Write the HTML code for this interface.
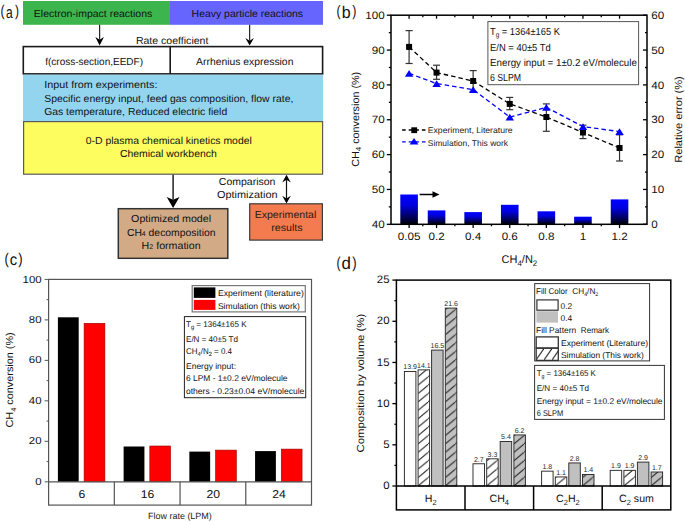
<!DOCTYPE html>
<html><head><meta charset="utf-8"><style>
html,body{margin:0;padding:0;background:#fff;}
svg{display:block;}
text{font-family:"Liberation Sans", sans-serif;text-rendering:geometricPrecision;}
</style></head><body>
<svg width="685" height="522" viewBox="0 0 685 522">
<text transform="translate(0.60,16.20) scale(0.1208,0.1545)" font-size="100" fill="#111">(</text>
<text transform="translate(5.89,17.53) scale(0.1206,0.1661)" font-size="100" fill="#111">a</text>
<text transform="translate(15.03,16.20) scale(0.1208,0.1545)" font-size="100" fill="#111">)</text>
<rect x="23" y="1" width="147" height="23.8" fill="#3db54d" stroke="none" stroke-width="1" />
<rect x="170" y="1" width="153" height="23.8" fill="#6666ff" stroke="none" stroke-width="1" />
<text x="33.8" y="16.5" font-size="10.2" text-anchor="start" fill="#111" textLength="118.5" lengthAdjust="spacingAndGlyphs" >Electron-impact reactions</text>
<text x="191.6" y="16.5" font-size="10.2" text-anchor="start" fill="#111" textLength="111.5" lengthAdjust="spacingAndGlyphs" >Heavy particle reactions</text>
<line x1="99.65" y1="24.8" x2="99.65" y2="39.800000000000004" stroke="#111" stroke-width="1.1" />
<path d="M95.35000000000001,37.1 L99.65,45.6 L103.95,37.1 L99.65,39.800000000000004 Z" fill="#000"/>
<line x1="249.65" y1="24.8" x2="249.65" y2="40.7" stroke="#111" stroke-width="1.1" />
<path d="M245.35,38.0 L249.65,45.6 L253.95000000000002,38.0 L249.65,40.7 Z" fill="#000"/>
<text x="135.9" y="43.8" font-size="10.2" text-anchor="start" fill="#111" textLength="72.5" lengthAdjust="spacingAndGlyphs" >Rate coefficient</text>
<rect x="23.3" y="46.6" width="299.3" height="27.300000000000004" fill="#fff" stroke="#1a1a1a" stroke-width="1.6" />
<line x1="170.2" y1="46.6" x2="170.2" y2="73.9" stroke="#1a1a1a" stroke-width="1.6" />
<text x="45.2" y="65.2" font-size="10.2" text-anchor="start" fill="#111" textLength="97.8" lengthAdjust="spacingAndGlyphs" >f(cross-section,EEDF)</text>
<text x="196.1" y="64.8" font-size="10.2" text-anchor="start" fill="#111" textLength="97.3" lengthAdjust="spacingAndGlyphs" >Arrhenius expression</text>
<rect x="23" y="74.7" width="300" height="46.3" fill="#93d5ef" stroke="none" stroke-width="1" />
<text x="44.2" y="87.9" font-size="10.2" text-anchor="start" fill="#111" textLength="113.3" lengthAdjust="spacingAndGlyphs" >Input from experiments:</text>
<text x="44.2" y="101.6" font-size="10.2" text-anchor="start" fill="#111" textLength="249.2" lengthAdjust="spacingAndGlyphs" >Specific energy input, feed gas composition, flow rate,</text>
<text x="44.2" y="115.3" font-size="10.2" text-anchor="start" fill="#111" textLength="183.0" lengthAdjust="spacingAndGlyphs" >Gas temperature, Reduced electric field</text>
<rect x="23.6" y="121.6" width="299.0" height="52.599999999999994" fill="#fdfd5f" stroke="#5a5a5a" stroke-width="1.2" />
<text x="85.8" y="144.2" font-size="10.2" text-anchor="start" fill="#111" textLength="166.0" lengthAdjust="spacingAndGlyphs" >0-D plasma chemical kinetics model</text>
<text x="119.9" y="157.1" font-size="10.2" text-anchor="start" fill="#111" textLength="96.9" lengthAdjust="spacingAndGlyphs" >Chemical workbench</text>
<line x1="173.1" y1="174.8" x2="173.1" y2="199.70000000000002" stroke="#111" stroke-width="1.4" />
<path d="M166.7,196.9 L173.1,207.9 L179.5,196.9 L173.1,199.70000000000002 Z" fill="#000"/>
<line x1="286.5" y1="177" x2="286.5" y2="201" stroke="#111" stroke-width="1.2" />
<path d="M282.2,182.5 L286.5,174.8 L290.8,182.5 L286.5,179.8 Z" fill="#000"/>
<path d="M282.2,195.8 L286.5,203.5 L290.8,195.8 L286.5,198.5 Z" fill="#000"/>
<text x="218.8" y="184.5" font-size="10.2" text-anchor="start" fill="#111" textLength="56.6" lengthAdjust="spacingAndGlyphs" >Comparison</text>
<text x="217" y="197.7" font-size="10.2" text-anchor="start" fill="#111" textLength="60.5" lengthAdjust="spacingAndGlyphs" >Optimization</text>
<rect x="118.3" y="208.7" width="109.50000000000001" height="49.60000000000002" fill="#d2ab86" stroke="#333" stroke-width="1.5" />
<text x="131.1" y="222.2" font-size="10.2" text-anchor="start" fill="#111" textLength="80.0" lengthAdjust="spacingAndGlyphs" >Optimized model</text>
<text x="126.9" y="235.7" font-size="10.2" text-anchor="start" fill="#111" textLength="88.6" lengthAdjust="spacingAndGlyphs" >CH<tspan font-size="6.8">4</tspan> decomposition</text>
<text x="141.6" y="248.8" font-size="10.2" text-anchor="start" fill="#111" textLength="59.0" lengthAdjust="spacingAndGlyphs" >H<tspan font-size="6.8">2</tspan> formation</text>
<rect x="249.7" y="203.8" width="72.69999999999999" height="36.29999999999998" fill="#f47b4f" stroke="#3a3a3a" stroke-width="1.2" />
<text x="254.7" y="218.2" font-size="10.2" text-anchor="start" fill="#2a1a10" textLength="61.6" lengthAdjust="spacingAndGlyphs" >Experimental</text>
<text x="271.3" y="231.3" font-size="10.2" text-anchor="start" fill="#2a1a10" textLength="31.3" lengthAdjust="spacingAndGlyphs" >results</text>
<text transform="translate(336.55,16.42) scale(0.1208,0.1534)" font-size="100" fill="#111">(</text>
<text transform="translate(341.66,17.53) scale(0.1604,0.1687)" font-size="100" fill="#111">b</text>
<text transform="translate(352.33,16.42) scale(0.1245,0.1534)" font-size="100" fill="#111">)</text>
<defs><linearGradient id="bg" x1="0" y1="0" x2="0" y2="1"><stop offset="0" stop-color="#0000ff"/><stop offset="0.35" stop-color="#0000e0"/><stop offset="1" stop-color="#000008"/></linearGradient></defs>
<rect x="400.3" y="194.5" width="17.600000000000023" height="29.80000000000001" fill="url(#bg)" stroke="none" stroke-width="1" />
<rect x="427.75" y="210.4" width="17.600000000000023" height="13.900000000000006" fill="url(#bg)" stroke="none" stroke-width="1" />
<rect x="464.35" y="212.1" width="17.600000000000023" height="12.200000000000017" fill="url(#bg)" stroke="none" stroke-width="1" />
<rect x="500.95" y="204.8" width="17.599999999999966" height="19.5" fill="url(#bg)" stroke="none" stroke-width="1" />
<rect x="537.5500000000001" y="211.3" width="17.59999999999991" height="13.0" fill="url(#bg)" stroke="none" stroke-width="1" />
<rect x="574.1500000000001" y="216.7" width="17.59999999999991" height="7.600000000000023" fill="url(#bg)" stroke="none" stroke-width="1" />
<rect x="610.75" y="199.4" width="17.59999999999991" height="24.900000000000006" fill="url(#bg)" stroke="none" stroke-width="1" />
<line x1="419.6" y1="194.5" x2="435" y2="194.5" stroke="#000" stroke-width="1.5" />
<path d="M432.5,191.3 L439.5,194.5 L432.5,197.7 Z" fill="#000"/>
<rect x="391" y="15.2" width="256" height="209.10000000000002" fill="none" stroke="#000" stroke-width="1.5"/>
<line x1="386.8" y1="224.3" x2="391" y2="224.3" stroke="#000" stroke-width="1.3" />
<text x="384.8" y="228.0" font-size="10.6" text-anchor="end" fill="#111" textLength="12.97" lengthAdjust="spacingAndGlyphs" >40</text>
<line x1="388.8" y1="206.875" x2="391" y2="206.875" stroke="#000" stroke-width="1.3" />
<line x1="386.8" y1="189.45000000000002" x2="391" y2="189.45000000000002" stroke="#000" stroke-width="1.3" />
<text x="384.8" y="193.15" font-size="10.6" text-anchor="end" fill="#111" textLength="12.97" lengthAdjust="spacingAndGlyphs" >50</text>
<line x1="388.8" y1="172.025" x2="391" y2="172.025" stroke="#000" stroke-width="1.3" />
<line x1="386.8" y1="154.60000000000002" x2="391" y2="154.60000000000002" stroke="#000" stroke-width="1.3" />
<text x="384.8" y="158.3" font-size="10.6" text-anchor="end" fill="#111" textLength="12.97" lengthAdjust="spacingAndGlyphs" >60</text>
<line x1="388.8" y1="137.175" x2="391" y2="137.175" stroke="#000" stroke-width="1.3" />
<line x1="386.8" y1="119.75" x2="391" y2="119.75" stroke="#000" stroke-width="1.3" />
<text x="384.8" y="123.45" font-size="10.6" text-anchor="end" fill="#111" textLength="12.97" lengthAdjust="spacingAndGlyphs" >70</text>
<line x1="388.8" y1="102.325" x2="391" y2="102.325" stroke="#000" stroke-width="1.3" />
<line x1="386.8" y1="84.9" x2="391" y2="84.9" stroke="#000" stroke-width="1.3" />
<text x="384.8" y="88.60000000000001" font-size="10.6" text-anchor="end" fill="#111" textLength="12.97" lengthAdjust="spacingAndGlyphs" >80</text>
<line x1="388.8" y1="67.475" x2="391" y2="67.475" stroke="#000" stroke-width="1.3" />
<line x1="386.8" y1="50.04999999999998" x2="391" y2="50.04999999999998" stroke="#000" stroke-width="1.3" />
<text x="384.8" y="53.749999999999986" font-size="10.6" text-anchor="end" fill="#111" textLength="12.97" lengthAdjust="spacingAndGlyphs" >90</text>
<line x1="388.8" y1="32.62499999999997" x2="391" y2="32.62499999999997" stroke="#000" stroke-width="1.3" />
<line x1="386.8" y1="15.199999999999989" x2="391" y2="15.199999999999989" stroke="#000" stroke-width="1.3" />
<text x="384.8" y="18.899999999999988" font-size="10.6" text-anchor="end" fill="#111" textLength="19.45" lengthAdjust="spacingAndGlyphs" >100</text>
<line x1="643" y1="224.3" x2="647" y2="224.3" stroke="#000" stroke-width="1.3" />
<text x="651.2" y="228.0" font-size="10.6" text-anchor="start" fill="#111" textLength="6.48" lengthAdjust="spacingAndGlyphs" >0</text>
<line x1="645" y1="206.875" x2="647" y2="206.875" stroke="#000" stroke-width="1.3" />
<line x1="643" y1="189.45000000000002" x2="647" y2="189.45000000000002" stroke="#000" stroke-width="1.3" />
<text x="651.2" y="193.15" font-size="10.6" text-anchor="start" fill="#111" textLength="12.97" lengthAdjust="spacingAndGlyphs" >10</text>
<line x1="645" y1="172.025" x2="647" y2="172.025" stroke="#000" stroke-width="1.3" />
<line x1="643" y1="154.60000000000002" x2="647" y2="154.60000000000002" stroke="#000" stroke-width="1.3" />
<text x="651.2" y="158.3" font-size="10.6" text-anchor="start" fill="#111" textLength="12.97" lengthAdjust="spacingAndGlyphs" >20</text>
<line x1="645" y1="137.175" x2="647" y2="137.175" stroke="#000" stroke-width="1.3" />
<line x1="643" y1="119.75" x2="647" y2="119.75" stroke="#000" stroke-width="1.3" />
<text x="651.2" y="123.45" font-size="10.6" text-anchor="start" fill="#111" textLength="12.97" lengthAdjust="spacingAndGlyphs" >30</text>
<line x1="645" y1="102.325" x2="647" y2="102.325" stroke="#000" stroke-width="1.3" />
<line x1="643" y1="84.9" x2="647" y2="84.9" stroke="#000" stroke-width="1.3" />
<text x="651.2" y="88.60000000000001" font-size="10.6" text-anchor="start" fill="#111" textLength="12.97" lengthAdjust="spacingAndGlyphs" >40</text>
<line x1="645" y1="67.475" x2="647" y2="67.475" stroke="#000" stroke-width="1.3" />
<line x1="643" y1="50.04999999999998" x2="647" y2="50.04999999999998" stroke="#000" stroke-width="1.3" />
<text x="651.2" y="53.749999999999986" font-size="10.6" text-anchor="start" fill="#111" textLength="12.97" lengthAdjust="spacingAndGlyphs" >50</text>
<line x1="645" y1="32.62499999999997" x2="647" y2="32.62499999999997" stroke="#000" stroke-width="1.3" />
<line x1="643" y1="15.199999999999989" x2="647" y2="15.199999999999989" stroke="#000" stroke-width="1.3" />
<text x="651.2" y="18.899999999999988" font-size="10.6" text-anchor="start" fill="#111" textLength="12.97" lengthAdjust="spacingAndGlyphs" >60</text>
<line x1="409.1" y1="224.3" x2="409.1" y2="228.10000000000002" stroke="#000" stroke-width="1.3" />
<line x1="409.1" y1="15.2" x2="409.1" y2="18.7" stroke="#000" stroke-width="1.3" />
<text x="409.1" y="240.2" font-size="10.6" text-anchor="middle" fill="#111" textLength="22.69" lengthAdjust="spacingAndGlyphs" >0.05</text>
<line x1="422.82500000000005" y1="224.3" x2="422.82500000000005" y2="226.3" stroke="#000" stroke-width="1.3" />
<line x1="422.82500000000005" y1="15.2" x2="422.82500000000005" y2="17.2" stroke="#000" stroke-width="1.3" />
<line x1="436.55" y1="224.3" x2="436.55" y2="228.10000000000002" stroke="#000" stroke-width="1.3" />
<line x1="436.55" y1="15.2" x2="436.55" y2="18.7" stroke="#000" stroke-width="1.3" />
<text x="436.55" y="240.2" font-size="10.6" text-anchor="middle" fill="#111" textLength="16.21" lengthAdjust="spacingAndGlyphs" >0.2</text>
<line x1="454.85" y1="224.3" x2="454.85" y2="226.3" stroke="#000" stroke-width="1.3" />
<line x1="454.85" y1="15.2" x2="454.85" y2="17.2" stroke="#000" stroke-width="1.3" />
<line x1="473.15000000000003" y1="224.3" x2="473.15000000000003" y2="228.10000000000002" stroke="#000" stroke-width="1.3" />
<line x1="473.15000000000003" y1="15.2" x2="473.15000000000003" y2="18.7" stroke="#000" stroke-width="1.3" />
<text x="473.15000000000003" y="240.2" font-size="10.6" text-anchor="middle" fill="#111" textLength="16.21" lengthAdjust="spacingAndGlyphs" >0.4</text>
<line x1="491.45000000000005" y1="224.3" x2="491.45000000000005" y2="226.3" stroke="#000" stroke-width="1.3" />
<line x1="491.45000000000005" y1="15.2" x2="491.45000000000005" y2="17.2" stroke="#000" stroke-width="1.3" />
<line x1="509.75" y1="224.3" x2="509.75" y2="228.10000000000002" stroke="#000" stroke-width="1.3" />
<line x1="509.75" y1="15.2" x2="509.75" y2="18.7" stroke="#000" stroke-width="1.3" />
<text x="509.75" y="240.2" font-size="10.6" text-anchor="middle" fill="#111" textLength="16.21" lengthAdjust="spacingAndGlyphs" >0.6</text>
<line x1="528.05" y1="224.3" x2="528.05" y2="226.3" stroke="#000" stroke-width="1.3" />
<line x1="528.05" y1="15.2" x2="528.05" y2="17.2" stroke="#000" stroke-width="1.3" />
<line x1="546.35" y1="224.3" x2="546.35" y2="228.10000000000002" stroke="#000" stroke-width="1.3" />
<line x1="546.35" y1="15.2" x2="546.35" y2="18.7" stroke="#000" stroke-width="1.3" />
<text x="546.35" y="240.2" font-size="10.6" text-anchor="middle" fill="#111" textLength="16.21" lengthAdjust="spacingAndGlyphs" >0.8</text>
<line x1="564.6500000000001" y1="224.3" x2="564.6500000000001" y2="226.3" stroke="#000" stroke-width="1.3" />
<line x1="564.6500000000001" y1="15.2" x2="564.6500000000001" y2="17.2" stroke="#000" stroke-width="1.3" />
<line x1="582.95" y1="224.3" x2="582.95" y2="228.10000000000002" stroke="#000" stroke-width="1.3" />
<line x1="582.95" y1="15.2" x2="582.95" y2="18.7" stroke="#000" stroke-width="1.3" />
<text x="582.95" y="240.2" font-size="10.6" text-anchor="middle" fill="#111" textLength="6.48" lengthAdjust="spacingAndGlyphs" >1</text>
<line x1="601.25" y1="224.3" x2="601.25" y2="226.3" stroke="#000" stroke-width="1.3" />
<line x1="601.25" y1="15.2" x2="601.25" y2="17.2" stroke="#000" stroke-width="1.3" />
<line x1="619.55" y1="224.3" x2="619.55" y2="228.10000000000002" stroke="#000" stroke-width="1.3" />
<line x1="619.55" y1="15.2" x2="619.55" y2="18.7" stroke="#000" stroke-width="1.3" />
<text x="619.55" y="240.2" font-size="10.6" text-anchor="middle" fill="#111" textLength="16.21" lengthAdjust="spacingAndGlyphs" >1.2</text>
<text x="501.6" y="262.9" font-size="11.2" text-anchor="start" fill="#111" textLength="35.6" lengthAdjust="spacingAndGlyphs" >CH<tspan font-size="8" dy="3">4</tspan><tspan dy="-3">/N</tspan><tspan font-size="8" dy="3">2</tspan></text>
<text transform="translate(358.8,166.8) rotate(-90)" font-size="10.3" fill="#111" textLength="95" lengthAdjust="spacingAndGlyphs">CH<tspan font-size="7.5" dy="2.5">4</tspan><tspan dy="-2.5"> conversion (%)</tspan></text>
<text transform="translate(682.3,162.7) rotate(-90)" font-size="10.3" fill="#111" textLength="86.5" lengthAdjust="spacingAndGlyphs">Relative error (%)</text>
<polyline points="409.1,46.9 436.6,72.6 473.2,81.0 509.8,103.9 546.4,117.0 583.0,132.5 619.5,148.0" fill="none" stroke="#000" stroke-width="1.3" stroke-dasharray="4.5,3"/>
<line x1="409.1" y1="30.6" x2="409.1" y2="63.5" stroke="#333" stroke-width="1.2" />
<line x1="405.6" y1="30.6" x2="412.6" y2="30.6" stroke="#333" stroke-width="1.2" />
<line x1="405.6" y1="63.5" x2="412.6" y2="63.5" stroke="#333" stroke-width="1.2" />
<line x1="436.55" y1="65.2" x2="436.55" y2="79.3" stroke="#333" stroke-width="1.2" />
<line x1="433.05" y1="65.2" x2="440.05" y2="65.2" stroke="#333" stroke-width="1.2" />
<line x1="433.05" y1="79.3" x2="440.05" y2="79.3" stroke="#333" stroke-width="1.2" />
<line x1="473.15000000000003" y1="70.6" x2="473.15000000000003" y2="91.4" stroke="#333" stroke-width="1.2" />
<line x1="469.65000000000003" y1="70.6" x2="476.65000000000003" y2="70.6" stroke="#333" stroke-width="1.2" />
<line x1="469.65000000000003" y1="91.4" x2="476.65000000000003" y2="91.4" stroke="#333" stroke-width="1.2" />
<line x1="509.75" y1="97.4" x2="509.75" y2="109.7" stroke="#333" stroke-width="1.2" />
<line x1="506.25" y1="97.4" x2="513.25" y2="97.4" stroke="#333" stroke-width="1.2" />
<line x1="506.25" y1="109.7" x2="513.25" y2="109.7" stroke="#333" stroke-width="1.2" />
<line x1="546.35" y1="103.9" x2="546.35" y2="131.3" stroke="#333" stroke-width="1.2" />
<line x1="542.85" y1="103.9" x2="549.85" y2="103.9" stroke="#333" stroke-width="1.2" />
<line x1="542.85" y1="131.3" x2="549.85" y2="131.3" stroke="#333" stroke-width="1.2" />
<line x1="582.95" y1="125.2" x2="582.95" y2="138.6" stroke="#333" stroke-width="1.2" />
<line x1="579.45" y1="125.2" x2="586.45" y2="125.2" stroke="#333" stroke-width="1.2" />
<line x1="579.45" y1="138.6" x2="586.45" y2="138.6" stroke="#333" stroke-width="1.2" />
<line x1="619.55" y1="134.8" x2="619.55" y2="161.0" stroke="#333" stroke-width="1.2" />
<line x1="616.05" y1="134.8" x2="623.05" y2="134.8" stroke="#333" stroke-width="1.2" />
<line x1="616.05" y1="161.0" x2="623.05" y2="161.0" stroke="#333" stroke-width="1.2" />
<rect x="406.1" y="43.9" width="6.0" height="6.0" fill="#000" stroke="none" stroke-width="1" />
<rect x="433.55" y="69.6" width="6.0" height="6.0" fill="#000" stroke="none" stroke-width="1" />
<rect x="470.15000000000003" y="78.0" width="6.0" height="6.0" fill="#000" stroke="none" stroke-width="1" />
<rect x="506.75" y="100.9" width="6.0" height="6.0" fill="#000" stroke="none" stroke-width="1" />
<rect x="543.35" y="114.0" width="6.0" height="6.0" fill="#000" stroke="none" stroke-width="1" />
<rect x="579.95" y="129.5" width="6.0" height="6.0" fill="#000" stroke="none" stroke-width="1" />
<rect x="616.55" y="145.0" width="6.0" height="6.0" fill="#000" stroke="none" stroke-width="1" />
<polyline points="409.1,73.4 436.6,83.6 473.2,89.6 509.8,117.1 546.4,107.4 583.0,126.6 619.5,131.6" fill="none" stroke="#0000ff" stroke-width="1.3" stroke-dasharray="4.5,3"/>
<path d="M404.9,76.7 L409.1,70.0 L413.3,76.7 Z" fill="#0000ff"/>
<path d="M432.4,86.89999999999999 L436.6,80.19999999999999 L440.8,86.89999999999999 Z" fill="#0000ff"/>
<path d="M469.0,92.89999999999999 L473.2,86.19999999999999 L477.4,92.89999999999999 Z" fill="#0000ff"/>
<path d="M505.6,120.39999999999999 L509.8,113.69999999999999 L514.0,120.39999999999999 Z" fill="#0000ff"/>
<path d="M542.1,110.7 L546.4,104.0 L550.6,110.7 Z" fill="#0000ff"/>
<path d="M578.8,129.9 L583.0,123.19999999999999 L587.2,129.9 Z" fill="#0000ff"/>
<path d="M615.3,134.9 L619.5,128.2 L623.8,134.9 Z" fill="#0000ff"/>
<rect x="487.9" y="21.6" width="150.70000000000005" height="63.1" fill="#fff" stroke="#555" stroke-width="1" />
<text x="490" y="34.9" font-size="10.2" text-anchor="start" fill="#111" textLength="69.9" lengthAdjust="spacingAndGlyphs" >T<tspan font-size="7" dy="2.5">g</tspan><tspan dy="-2.5"> = 1364±165 K</tspan></text>
<text x="490" y="51" font-size="10.2" text-anchor="start" fill="#111" textLength="60.7" lengthAdjust="spacingAndGlyphs" >E/N = 40±5 Td</text>
<text x="490" y="65.9" font-size="10.2" text-anchor="start" fill="#111" textLength="146.9" lengthAdjust="spacingAndGlyphs" >Energy input = 1±0.2 eV/molecule</text>
<text x="490" y="80.8" font-size="10.2" text-anchor="start" fill="#111" textLength="31" lengthAdjust="spacingAndGlyphs" >6 SLPM</text>
<line x1="402.1" y1="130" x2="426" y2="130" stroke="#000" stroke-width="1.3" stroke-dasharray="3.6,3"/>
<rect x="411.3" y="127.3" width="5.800000000000011" height="5.799999999999997" fill="#000" stroke="none" stroke-width="1" />
<text x="427.8" y="133.3" font-size="8.3" text-anchor="start" fill="#222" textLength="84.8" lengthAdjust="spacingAndGlyphs" >Experiment, Literature</text>
<line x1="402.1" y1="141.8" x2="426" y2="141.8" stroke="#0000ff" stroke-width="1.3" stroke-dasharray="3.6,3"/>
<path d="M409.6,144.6 L414,137.9 L418.4,144.6 Z" fill="#0000ff"/>
<text x="427.8" y="145.7" font-size="8.3" text-anchor="start" fill="#222" textLength="80.2" lengthAdjust="spacingAndGlyphs" >Simulation, This work</text>
<text transform="translate(4.60,264.20) scale(0.1283,0.1545)" font-size="100" fill="#111">(</text>
<text transform="translate(9.78,265.34) scale(0.1481,0.1624)" font-size="100" fill="#111">c</text>
<text transform="translate(18.32,264.20) scale(0.1321,0.1545)" font-size="100" fill="#111">)</text>
<rect x="57.900000000000006" y="317.3" width="20.799999999999997" height="164.5" fill="#000" stroke="none" stroke-width="1" />
<rect x="84.1" y="323.3" width="20.80000000000001" height="158.5" fill="#ff0000" stroke="#990000" stroke-width="0.6" />
<text x="81.86250000000001" y="497.9" font-size="11.4" text-anchor="middle" fill="#111" textLength="6.78" lengthAdjust="spacingAndGlyphs" >6</text>
<rect x="123.62499999999999" y="446.5" width="20.799999999999997" height="35.30000000000001" fill="#000" stroke="none" stroke-width="1" />
<rect x="149.825" y="446.0" width="20.80000000000001" height="35.80000000000001" fill="#ff0000" stroke="#990000" stroke-width="0.6" />
<text x="147.5875" y="497.9" font-size="11.4" text-anchor="middle" fill="#111" textLength="13.57" lengthAdjust="spacingAndGlyphs" >16</text>
<line x1="114.32499999999999" y1="481.8" x2="114.32499999999999" y2="505.1" stroke="#555" stroke-width="1.2" />
<rect x="189.35" y="451.6" width="20.799999999999983" height="30.19999999999999" fill="#000" stroke="none" stroke-width="1" />
<rect x="215.54999999999998" y="450.1" width="20.799999999999983" height="31.69999999999999" fill="#ff0000" stroke="#990000" stroke-width="0.6" />
<text x="213.31249999999997" y="497.9" font-size="11.4" text-anchor="middle" fill="#111" textLength="13.57" lengthAdjust="spacingAndGlyphs" >20</text>
<line x1="180.04999999999998" y1="481.8" x2="180.04999999999998" y2="505.1" stroke="#555" stroke-width="1.2" />
<rect x="255.075" y="451.1" width="20.80000000000001" height="30.69999999999999" fill="#000" stroke="none" stroke-width="1" />
<rect x="281.275" y="449.1" width="20.80000000000001" height="32.69999999999999" fill="#ff0000" stroke="#990000" stroke-width="0.6" />
<text x="279.03749999999997" y="497.9" font-size="11.4" text-anchor="middle" fill="#111" textLength="13.57" lengthAdjust="spacingAndGlyphs" >24</text>
<line x1="245.77499999999998" y1="481.8" x2="245.77499999999998" y2="505.1" stroke="#555" stroke-width="1.2" />
<rect x="48.6" y="279.4" width="262.9" height="225.70000000000005" fill="none" stroke="#555" stroke-width="1.2" />
<line x1="48.6" y1="481.8" x2="311.5" y2="481.8" stroke="#555" stroke-width="1.2" />
<line x1="44.6" y1="481.8" x2="48.6" y2="481.8" stroke="#555" stroke-width="1" />
<text x="41.6" y="484.90000000000003" font-size="10.2" text-anchor="end" fill="#111" textLength="6.35" lengthAdjust="spacingAndGlyphs" >0</text>
<line x1="46.6" y1="461.56" x2="48.6" y2="461.56" stroke="#555" stroke-width="1" />
<line x1="44.6" y1="441.32" x2="48.6" y2="441.32" stroke="#555" stroke-width="1" />
<text x="41.6" y="444.42" font-size="10.2" text-anchor="end" fill="#111" textLength="12.71" lengthAdjust="spacingAndGlyphs" >20</text>
<line x1="46.6" y1="421.08" x2="48.6" y2="421.08" stroke="#555" stroke-width="1" />
<line x1="44.6" y1="400.84" x2="48.6" y2="400.84" stroke="#555" stroke-width="1" />
<text x="41.6" y="403.94" font-size="10.2" text-anchor="end" fill="#111" textLength="12.71" lengthAdjust="spacingAndGlyphs" >40</text>
<line x1="46.6" y1="380.6" x2="48.6" y2="380.6" stroke="#555" stroke-width="1" />
<line x1="44.6" y1="360.36" x2="48.6" y2="360.36" stroke="#555" stroke-width="1" />
<text x="41.6" y="363.46000000000004" font-size="10.2" text-anchor="end" fill="#111" textLength="12.71" lengthAdjust="spacingAndGlyphs" >60</text>
<line x1="46.6" y1="340.12" x2="48.6" y2="340.12" stroke="#555" stroke-width="1" />
<line x1="44.6" y1="319.88" x2="48.6" y2="319.88" stroke="#555" stroke-width="1" />
<text x="41.6" y="322.98" font-size="10.2" text-anchor="end" fill="#111" textLength="12.71" lengthAdjust="spacingAndGlyphs" >80</text>
<line x1="46.6" y1="299.64" x2="48.6" y2="299.64" stroke="#555" stroke-width="1" />
<line x1="44.6" y1="279.4" x2="48.6" y2="279.4" stroke="#555" stroke-width="1" />
<text x="41.6" y="282.5" font-size="10.2" text-anchor="end" fill="#111" textLength="19.06" lengthAdjust="spacingAndGlyphs" >100</text>
<text x="148" y="519" font-size="9" text-anchor="start" fill="#222" textLength="63.8" lengthAdjust="spacingAndGlyphs" >Flow rate (LPM)</text>
<text transform="translate(13.2,427.5) rotate(-90)" font-size="10.2" fill="#111" textLength="95.2" lengthAdjust="spacingAndGlyphs">CH<tspan font-size="7" dy="2.3">4</tspan><tspan dy="-2.3"> conversion (%)</tspan></text>
<rect x="192.2" y="285.6" width="113.10000000000002" height="26.299999999999955" fill="#fff" stroke="#777" stroke-width="1.2" />
<rect x="193.8" y="287.4" width="21.599999999999994" height="10.5" fill="#000" stroke="none" stroke-width="1" />
<rect x="193.8" y="299.9" width="21.599999999999994" height="10.0" fill="#ff0000" stroke="none" stroke-width="1" />
<text x="217.9" y="296.2" font-size="8.4" text-anchor="start" fill="#111" textLength="85.9" lengthAdjust="spacingAndGlyphs" >Experiment (literature)</text>
<text x="217.9" y="308.5" font-size="8.4" text-anchor="start" fill="#111" textLength="82" lengthAdjust="spacingAndGlyphs" >Simulation (this work)</text>
<rect x="184.4" y="316.6" width="121.29999999999998" height="81.09999999999997" fill="#fff" stroke="#222" stroke-width="1" />
<text x="186" y="327.1" font-size="8.4" text-anchor="start" fill="#111" textLength="60.5" lengthAdjust="spacingAndGlyphs" >T<tspan font-size="6" dy="2">g</tspan><tspan dy="-2"> = 1364±165 K</tspan></text>
<text x="186" y="341.9" font-size="8.4" text-anchor="start" fill="#111" textLength="52" lengthAdjust="spacingAndGlyphs" >E/N = 40±5 Td</text>
<text x="186" y="354" font-size="8.4" text-anchor="start" fill="#111" textLength="46" lengthAdjust="spacingAndGlyphs" >CH<tspan font-size="6" dy="2">4</tspan><tspan dy="-2">/N</tspan><tspan font-size="6" dy="2">2</tspan><tspan dy="-2"> = 0.4</tspan></text>
<text x="186" y="368.5" font-size="8.4" text-anchor="start" fill="#111" textLength="50" lengthAdjust="spacingAndGlyphs" >Energy input:</text>
<text x="186" y="381.2" font-size="8.4" text-anchor="start" fill="#111" textLength="101.5" lengthAdjust="spacingAndGlyphs" >6 LPM - 1±0.2 eV/molecule</text>
<text x="186" y="393.9" font-size="8.4" text-anchor="start" fill="#111" textLength="118.3" lengthAdjust="spacingAndGlyphs" >others - 0.23±0.04 eV/molecule</text>
<text transform="translate(336.55,268.01) scale(0.1208,0.1588)" font-size="100" fill="#111">(</text>
<text transform="translate(341.59,269.03) scale(0.1689,0.1728)" font-size="100" fill="#111">d</text>
<text transform="translate(352.32,268.01) scale(0.1321,0.1588)" font-size="100" fill="#111">)</text>
<rect x="404.4" y="371.5196" width="11.5" height="114.48039999999997" fill="#fff" stroke="#2a2a2a" stroke-width="0.95" />
<text x="410.15" y="369.31960000000004" font-size="7" text-anchor="middle" fill="#2a2a2a" >13.9</text>
<rect x="418.09999999999997" y="369.8724" width="11.5" height="116.12759999999997" fill="#fff" stroke="none" stroke-width="0.95" />
<defs><pattern id="h1" patternUnits="userSpaceOnUse" x="418.10" y="486.0" width="10.0" height="8.4"><path d="M-1,9.240 L11.0,-0.840" stroke="#1a1a1a" stroke-width="1"/></pattern></defs>
<rect x="418.10" y="369.87" width="11.5" height="116.13" fill="url(#h1)" stroke="#2a2a2a" stroke-width="0.95"/>
<text x="423.84999999999997" y="367.67240000000004" font-size="7" text-anchor="middle" fill="#2a2a2a" >14.1</text>
<rect x="431.59999999999997" y="350.106" width="11.5" height="135.894" fill="#c0c0c0" stroke="#2a2a2a" stroke-width="0.95" />
<text x="437.34999999999997" y="347.906" font-size="7" text-anchor="middle" fill="#2a2a2a" >16.5</text>
<rect x="445.29999999999995" y="308.1024" width="11.5" height="177.8976" fill="#c0c0c0" stroke="none" stroke-width="0.95" />
<defs><pattern id="h2" patternUnits="userSpaceOnUse" x="445.30" y="486.0" width="10.0" height="8.4"><path d="M-1,9.240 L11.0,-0.840" stroke="#1a1a1a" stroke-width="1"/></pattern></defs>
<rect x="445.30" y="308.10" width="11.5" height="177.90" fill="url(#h2)" stroke="#2a2a2a" stroke-width="0.95"/>
<text x="451.04999999999995" y="305.9024" font-size="7" text-anchor="middle" fill="#2a2a2a" >21.6</text>
<rect x="473.0" y="463.7628" width="11.5" height="22.237199999999973" fill="#fff" stroke="#2a2a2a" stroke-width="0.95" />
<text x="478.75" y="461.56280000000004" font-size="7" text-anchor="middle" fill="#2a2a2a" >2.7</text>
<rect x="486.7" y="458.8212" width="11.5" height="27.178800000000024" fill="#fff" stroke="none" stroke-width="0.95" />
<defs><pattern id="h3" patternUnits="userSpaceOnUse" x="486.70" y="486.0" width="10.0" height="8.4"><path d="M-1,9.240 L11.0,-0.840" stroke="#1a1a1a" stroke-width="1"/></pattern></defs>
<rect x="486.70" y="458.82" width="11.5" height="27.18" fill="url(#h3)" stroke="#2a2a2a" stroke-width="0.95"/>
<text x="492.45" y="456.6212" font-size="7" text-anchor="middle" fill="#2a2a2a" >3.3</text>
<rect x="500.2" y="441.5256" width="11.5" height="44.4744" fill="#c0c0c0" stroke="#2a2a2a" stroke-width="0.95" />
<text x="505.95" y="439.3256" font-size="7" text-anchor="middle" fill="#2a2a2a" >5.4</text>
<rect x="513.9" y="434.9368" width="11.5" height="51.063199999999995" fill="#c0c0c0" stroke="none" stroke-width="0.95" />
<defs><pattern id="h4" patternUnits="userSpaceOnUse" x="513.90" y="486.0" width="10.0" height="8.4"><path d="M-1,9.240 L11.0,-0.840" stroke="#1a1a1a" stroke-width="1"/></pattern></defs>
<rect x="513.90" y="434.94" width="11.5" height="51.06" fill="url(#h4)" stroke="#2a2a2a" stroke-width="0.95"/>
<text x="519.65" y="432.7368" font-size="7" text-anchor="middle" fill="#2a2a2a" >6.2</text>
<line x1="465.0" y1="486.0" x2="465.0" y2="509.9" stroke="#000" stroke-width="1.5" />
<rect x="541.5999999999999" y="471.1752" width="11.5" height="14.824799999999982" fill="#fff" stroke="#2a2a2a" stroke-width="0.95" />
<text x="547.3499999999999" y="468.97520000000003" font-size="7" text-anchor="middle" fill="#2a2a2a" >1.8</text>
<rect x="555.3" y="476.9404" width="11.5" height="9.059599999999989" fill="#fff" stroke="none" stroke-width="0.95" />
<defs><pattern id="h5" patternUnits="userSpaceOnUse" x="555.30" y="486.0" width="10.0" height="8.4"><path d="M-1,9.240 L11.0,-0.840" stroke="#1a1a1a" stroke-width="1"/></pattern></defs>
<rect x="555.30" y="476.94" width="11.5" height="9.06" fill="url(#h5)" stroke="#2a2a2a" stroke-width="0.95"/>
<text x="561.05" y="474.7404" font-size="7" text-anchor="middle" fill="#2a2a2a" >1.1</text>
<rect x="568.8" y="462.9392" width="11.5" height="23.060799999999972" fill="#c0c0c0" stroke="#2a2a2a" stroke-width="0.95" />
<text x="574.55" y="460.73920000000004" font-size="7" text-anchor="middle" fill="#2a2a2a" >2.8</text>
<rect x="582.4999999999999" y="474.4696" width="11.5" height="11.530399999999986" fill="#c0c0c0" stroke="none" stroke-width="0.95" />
<defs><pattern id="h6" patternUnits="userSpaceOnUse" x="582.50" y="486.0" width="10.0" height="8.4"><path d="M-1,9.240 L11.0,-0.840" stroke="#1a1a1a" stroke-width="1"/></pattern></defs>
<rect x="582.50" y="474.47" width="11.5" height="11.53" fill="url(#h6)" stroke="#2a2a2a" stroke-width="0.95"/>
<text x="588.2499999999999" y="472.2696" font-size="7" text-anchor="middle" fill="#2a2a2a" >1.4</text>
<line x1="533.5999999999999" y1="486.0" x2="533.5999999999999" y2="509.9" stroke="#000" stroke-width="1.5" />
<rect x="610.1999999999999" y="470.3516" width="11.5" height="15.648399999999981" fill="#fff" stroke="#2a2a2a" stroke-width="0.95" />
<text x="615.9499999999999" y="468.15160000000003" font-size="7" text-anchor="middle" fill="#2a2a2a" >1.9</text>
<rect x="623.9" y="470.3516" width="11.5" height="15.648399999999981" fill="#fff" stroke="none" stroke-width="0.95" />
<defs><pattern id="h7" patternUnits="userSpaceOnUse" x="623.90" y="486.0" width="10.0" height="8.4"><path d="M-1,9.240 L11.0,-0.840" stroke="#1a1a1a" stroke-width="1"/></pattern></defs>
<rect x="623.90" y="470.35" width="11.5" height="15.65" fill="url(#h7)" stroke="#2a2a2a" stroke-width="0.95"/>
<text x="629.65" y="468.15160000000003" font-size="7" text-anchor="middle" fill="#2a2a2a" >1.9</text>
<rect x="637.4" y="462.11560000000003" width="11.5" height="23.88439999999997" fill="#c0c0c0" stroke="#2a2a2a" stroke-width="0.95" />
<text x="643.15" y="459.91560000000004" font-size="7" text-anchor="middle" fill="#2a2a2a" >2.9</text>
<rect x="651.0999999999999" y="471.9988" width="11.5" height="14.001199999999983" fill="#c0c0c0" stroke="none" stroke-width="0.95" />
<defs><pattern id="h8" patternUnits="userSpaceOnUse" x="651.10" y="486.0" width="10.0" height="8.4"><path d="M-1,9.240 L11.0,-0.840" stroke="#1a1a1a" stroke-width="1"/></pattern></defs>
<rect x="651.10" y="472.00" width="11.5" height="14.00" fill="url(#h8)" stroke="#2a2a2a" stroke-width="0.95"/>
<text x="656.8499999999999" y="469.7988" font-size="7" text-anchor="middle" fill="#2a2a2a" >1.7</text>
<line x1="602.1999999999999" y1="486.0" x2="602.1999999999999" y2="509.9" stroke="#000" stroke-width="1.5" />
<rect x="396.4" y="280.1" width="274.4" height="229.79999999999995" fill="none" stroke="#000" stroke-width="1.5"/>
<line x1="396.4" y1="486.0" x2="670.8" y2="486.0" stroke="#000" stroke-width="1.5" />
<line x1="392.4" y1="486.0" x2="396.4" y2="486.0" stroke="#000" stroke-width="1.3" />
<text x="389.6" y="489.1" font-size="10.9" text-anchor="end" fill="#111" textLength="6.36" lengthAdjust="spacingAndGlyphs" >0</text>
<line x1="394.4" y1="465.41" x2="396.4" y2="465.41" stroke="#000" stroke-width="1.3" />
<line x1="392.4" y1="444.82" x2="396.4" y2="444.82" stroke="#000" stroke-width="1.3" />
<text x="389.6" y="447.92" font-size="10.9" text-anchor="end" fill="#111" textLength="6.36" lengthAdjust="spacingAndGlyphs" >5</text>
<line x1="394.4" y1="424.23" x2="396.4" y2="424.23" stroke="#000" stroke-width="1.3" />
<line x1="392.4" y1="403.64" x2="396.4" y2="403.64" stroke="#000" stroke-width="1.3" />
<text x="389.6" y="406.74" font-size="10.9" text-anchor="end" fill="#111" textLength="12.73" lengthAdjust="spacingAndGlyphs" >10</text>
<line x1="394.4" y1="383.05" x2="396.4" y2="383.05" stroke="#000" stroke-width="1.3" />
<line x1="392.4" y1="362.46000000000004" x2="396.4" y2="362.46000000000004" stroke="#000" stroke-width="1.3" />
<text x="389.6" y="365.56000000000006" font-size="10.9" text-anchor="end" fill="#111" textLength="12.73" lengthAdjust="spacingAndGlyphs" >15</text>
<line x1="394.4" y1="341.87" x2="396.4" y2="341.87" stroke="#000" stroke-width="1.3" />
<line x1="392.4" y1="321.28" x2="396.4" y2="321.28" stroke="#000" stroke-width="1.3" />
<text x="389.6" y="324.38" font-size="10.9" text-anchor="end" fill="#111" textLength="12.73" lengthAdjust="spacingAndGlyphs" >20</text>
<line x1="394.4" y1="300.69000000000005" x2="396.4" y2="300.69000000000005" stroke="#000" stroke-width="1.3" />
<line x1="392.4" y1="280.1" x2="396.4" y2="280.1" stroke="#000" stroke-width="1.3" />
<text x="389.6" y="283.20000000000005" font-size="10.9" text-anchor="end" fill="#111" textLength="12.73" lengthAdjust="spacingAndGlyphs" >25</text>
<text x="430.7" y="502.2" font-size="10.6" text-anchor="middle" fill="#111" >H<tspan font-size="7.5" dy="2.5">2</tspan></text>
<text x="499.29999999999995" y="502.2" font-size="10.6" text-anchor="middle" fill="#111" >CH<tspan font-size="7.5" dy="2.5">4</tspan></text>
<text x="567.9" y="502.2" font-size="10.6" text-anchor="middle" fill="#111" >C<tspan font-size="7.5" dy="2.5">2</tspan><tspan dy="-2.5">H</tspan><tspan font-size="7.5" dy="2.5">2</tspan></text>
<text x="636.5" y="502.2" font-size="10.6" text-anchor="middle" fill="#111" >C<tspan font-size="7.5" dy="2.5">2</tspan><tspan dy="-2.5"> sum</tspan></text>
<text transform="translate(364.2,452.4) rotate(-90)" font-size="10.2" fill="#111" textLength="138.6" lengthAdjust="spacingAndGlyphs">Composition by volume (%)</text>
<rect x="534.7" y="283.6" width="114.89999999999998" height="77.29999999999995" fill="#fff" stroke="#333" stroke-width="1" />
<text x="536.1" y="294.1" font-size="8.4" text-anchor="start" fill="#111" textLength="31.5" lengthAdjust="spacingAndGlyphs" >Fill Color</text>
<text x="572.3" y="294.1" font-size="8.4" text-anchor="start" fill="#111" textLength="26" lengthAdjust="spacingAndGlyphs" >CH<tspan font-size="5.5" dy="2">4</tspan><tspan dy="-2">/N</tspan><tspan font-size="5.5" dy="2">2</tspan></text>
<rect x="536.9" y="299.9" width="21.200000000000045" height="10.300000000000011" fill="#fff" stroke="#333" stroke-width="1.2" />
<text x="560.5" y="308.5" font-size="8.4" text-anchor="start" fill="#111" >0.2</text>
<rect x="536.4" y="311.2" width="21.600000000000023" height="11.400000000000034" fill="#c0c0c0" stroke="none" stroke-width="1" />
<text x="560.5" y="321" font-size="8.4" text-anchor="start" fill="#111" >0.4</text>
<text x="536.1" y="333.1" font-size="8.4" text-anchor="start" fill="#111" textLength="40" lengthAdjust="spacingAndGlyphs" >Fill Pattern</text>
<text x="580.8" y="333.1" font-size="8.4" text-anchor="start" fill="#111" textLength="28.3" lengthAdjust="spacingAndGlyphs" >Remark</text>
<defs><pattern id="hatch2" patternUnits="userSpaceOnUse" x="536" y="360.5" width="8" height="12.5" ><path d="M-1,13.5 L9,-1" stroke="#222" stroke-width="1.1"/></pattern></defs>
<rect x="536.2" y="336.9" width="22.09999999999991" height="11.200000000000045" fill="#fff" stroke="#333" stroke-width="1.3" />
<rect x="536.2" y="348.1" width="22.09999999999991" height="12.299999999999955" fill="url(#hatch2)" stroke="#333" stroke-width="1.3" />
<text x="561" y="345.5" font-size="8.4" text-anchor="start" fill="#111" textLength="87" lengthAdjust="spacingAndGlyphs" >Experiment (Literature)</text>
<text x="561" y="357.7" font-size="8.4" text-anchor="start" fill="#111" textLength="82.7" lengthAdjust="spacingAndGlyphs" >Simulation (This work)</text>
<rect x="534.6" y="365.4" width="129.79999999999995" height="54.0" fill="#fff" stroke="#333" stroke-width="1" />
<text x="536.7" y="376" font-size="8.4" text-anchor="start" fill="#111" textLength="59.2" lengthAdjust="spacingAndGlyphs" >T<tspan font-size="5.5" dy="2">g</tspan><tspan dy="-2"> = 1364±165 K</tspan></text>
<text x="536.7" y="390.7" font-size="8.4" text-anchor="start" fill="#111" textLength="52.2" lengthAdjust="spacingAndGlyphs" >E/N = 40±5 Td</text>
<text x="536.7" y="403.6" font-size="8.4" text-anchor="start" fill="#111" textLength="125.8" lengthAdjust="spacingAndGlyphs" >Energy input = 1±0.2 eV/molecule</text>
<text x="536.7" y="416" font-size="8.4" text-anchor="start" fill="#111" textLength="26.5" lengthAdjust="spacingAndGlyphs" >6 SLPM</text>
</svg>
</body></html>
